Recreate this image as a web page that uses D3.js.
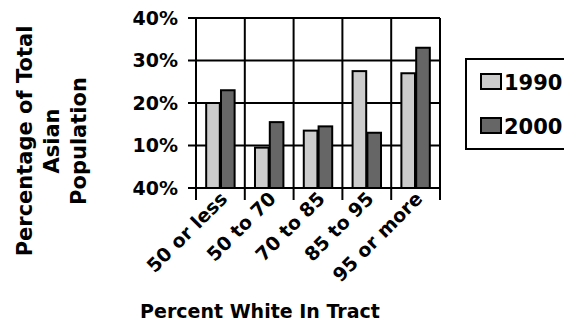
<!DOCTYPE html>
<html>
<head>
<meta charset="utf-8">
<script src="https://cdn.jsdelivr.net/npm/d3@7"></script>
<style>
  body { margin: 0; background: #fff; }
  text { font-family: "DejaVu Sans", Verdana, sans-serif; font-weight: bold; fill: #000; }
</style>
</head>
<body>
<svg id="chart" width="564" height="324"></svg>
<script>
const categories = ['50 or less', '50 to 70', '70 to 85', '85 to 95', '95 or more']
const series = ['1990', '2000']
const values1990 = [20, 9.5, 13.5, 27.5, 27]
const values2000 = [23, 15.5, 14.5, 13, 33]
const yTicks = [0, 10, 20, 30, 40]
const yTickLabels = ['40%', '10%', '20%', '30%', '40%']
const colors = ['#cccccc', '#666666']

const svg = d3.select('#chart')
const margin = {top: 18, left: 196, right: 124, bottom: 136}
const width = 564
const height = 324
const plotW = width - margin.left - margin.right
const plotH = height - margin.top - margin.bottom

const xScale = d3.scaleBand().domain(categories).range([0, plotW])
const inner = d3.scaleBand().domain(series)
  .range([9, xScale.bandwidth() - 9]).padding(0.08)
const yScale = d3.scaleLinear().domain([0, 40]).range([plotH, 0])

const g = svg.append('g').attr('transform', `translate(${margin.left}, ${margin.top})`)

// horizontal grid + y ticks
g.append('g').selectAll('line').data(yTicks).join('line')
  .attr('x1', -8).attr('x2', plotW)
  .attr('y1', d => yScale(d)).attr('y2', d => yScale(d))
  .attr('stroke', '#000').attr('stroke-width', 2)

// vertical grid + x ticks at category edges
const edges = categories.map(c => xScale(c)).concat([plotW])
g.append('g').selectAll('line').data(edges).join('line')
  .attr('x1', d => d).attr('x2', d => d)
  .attr('y1', 0).attr('y2', plotH + 12)
  .attr('stroke', '#000').attr('stroke-width', 2)

// bars
const rows = categories.map((c, i) => ({cat: c, vals: [values1990[i], values2000[i]]}))
const groups = g.append('g').selectAll('g').data(rows).join('g')
  .attr('transform', d => `translate(${xScale(d.cat)}, 0)`)
groups.selectAll('rect')
  .data(d => d.vals.map((v, j) => ({s: series[j], v: v, j: j})))
  .join('rect')
  .attr('x', d => inner(d.s))
  .attr('width', inner.bandwidth())
  .attr('y', d => yScale(d.v))
  .attr('height', d => yScale(0) - yScale(d.v))
  .attr('fill', d => colors[d.j])
  .attr('stroke', '#000').attr('stroke-width', 2)

// y tick labels
g.append('g').selectAll('text').data(yTicks).join('text')
  .attr('x', -18).attr('y', d => yScale(d))
  .attr('dy', '0.36em')
  .attr('text-anchor', 'end')
  .style('font-size', '19px')
  .text((d, i) => yTickLabels[i])

// x tick labels
g.append('g').selectAll('text').data(categories).join('text')
  .attr('text-anchor', 'end')
  .attr('transform', d => `translate(${xScale(d) + xScale.bandwidth() / 2 + 8}, ${plotH + 12}) rotate(-45)`)
  .style('font-size', '19px')
  .text(d => d)

// x axis title
svg.append('text')
  .attr('x', 260).attr('y', 318)
  .attr('text-anchor', 'middle')
  .style('font-size', '19px')
  .text('Percent White In Tract')

// y axis title
const yTitle = svg.append('text')
  .attr('transform', 'translate(52, 141) rotate(-90)')
  .attr('text-anchor', 'middle')
  .style('font-size', '21px')
const titleLines = ['Percentage of Total', 'Asian', 'Population']
titleLines.forEach((t, i) => {
  yTitle.append('tspan').attr('x', 0).attr('y', (i - 1) * 27 + 7).text(t)
})

// legend
const legend = svg.append('g').attr('transform', 'translate(466, 59)')
legend.append('rect')
  .attr('width', 110).attr('height', 90)
  .attr('fill', '#fff').attr('stroke', '#000').attr('stroke-width', 2)
series.forEach((s, i) => {
  legend.append('rect')
    .attr('x', 15).attr('y', 15 + i * 44)
    .attr('width', 20).attr('height', 15)
    .attr('fill', colors[i]).attr('stroke', '#000').attr('stroke-width', 2)
  legend.append('text')
    .attr('x', 38).attr('y', 31 + i * 44)
    .style('font-size', '21px')
    .text(s)
})
</script>
</body>
</html>
